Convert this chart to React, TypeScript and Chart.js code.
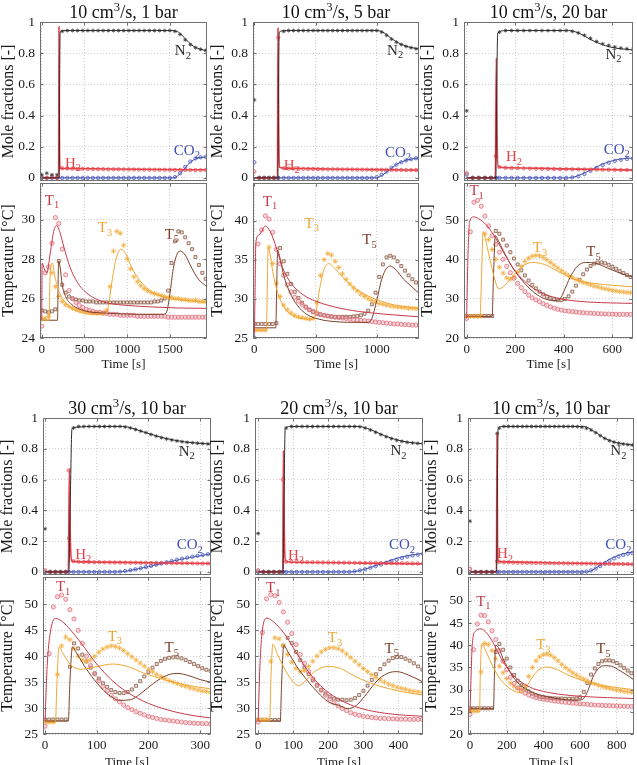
import React, { useEffect, useRef } from "react";
import { Chart, registerables } from "chart.js";
Chart.register(...registerables);

const FONT = "'Liberation Serif', 'Times New Roman', serif";

// ---------------- DATA ----------------
const panelTitles = ["10 cm³/s, 1 bar", "10 cm³/s, 5 bar", "10 cm³/s, 20 bar", "30 cm³/s, 10 bar", "20 cm³/s, 10 bar", "10 cm³/s, 10 bar"];
const moleTicks = [0, 0.2, 0.4, 0.6, 0.8, 1];

// Panel 1: 10 cm3/s, 1 bar
const p1_xTicks = [0, 500, 1000, 1500];
const p1_tTicks = [24, 26, 28, 30];
const p1_molT = [0,60,120,180,240,300,360,420,480,540,600,660,720,780,840,900,960,1020,1080,1140,1200,1260,1320,1380,1440,1500,1560,1620,1680,1740,1800,1860,1920];
const p1_N2 = [0.02,0.03,0.02,0.02,0.94,0.945,0.945,0.945,0.945,0.945,0.945,0.945,0.945,0.945,0.945,0.945,0.945,0.945,0.945,0.945,0.945,0.945,0.945,0.945,0.945,0.945,0.94,0.92,0.885,0.855,0.835,0.825,0.818];
const p1_H2 = [0.01,0,0.01,0,0.062,0.06,0.059,0.058,0.058,0.057,0.057,0.056,0.056,0.055,0.055,0.055,0.054,0.054,0.054,0.053,0.053,0.053,0.052,0.052,0.052,0.052,0.051,0.051,0.051,0.05,0.05,0.05,0.05];
const p1_CO2 = [0,0,0,0,0,0,0,0,0,0,0,0,0,0,0,0,0,0,0,0,0,0,0,0,0,0,0.005,0.03,0.07,0.105,0.125,0.132,0.135];
const p1_N2_model = [[0,0],[205,0],[210,0.6],[216,0.935],[260,0.945],[1540,0.945],[1600,0.935],[1660,0.905],[1720,0.87],[1790,0.84],[1860,0.825],[1935,0.815]];
const p1_H2_model = [[0,0],[198,0],[202,0.97],[207,0.3],[213,0.065],[260,0.06],[800,0.057],[1400,0.054],[1935,0.052]];
const p1_CO2_model = [[0,0],[1530,0],[1590,0.012],[1650,0.045],[1710,0.085],[1770,0.113],[1840,0.128],[1935,0.135]];
const p1_tmpT = [0,40,80,120,160,200,240,280,320,360,400,440,480,520,560,600,640,680,720,760,800,840,880,920,960,1000,1040,1080,1120,1160,1200,1240,1280,1320,1360,1400,1440,1480,1520,1560,1600,1640,1680,1720,1760,1800,1840,1880,1920];
const p1_T1 = [24.6,27.3,27.6,28.8,30.1,29.8,28.5,27.2,26.4,26.0,25.8,25.65,25.55,25.45,25.4,25.35,25.3,25.3,25.25,25.25,25.2,25.2,25.2,25.15,25.15,25.15,25.15,25.15,25.1,25.1,25.1,25.1,25.1,25.1,25.1,25.1,25.1,25.05,25.05,25.05,25.05,25.05,25.05,25.05,25.05,25.05,25.05,25.05,25.05];
const p1_T3 = [25.0,25.0,25.1,27.3,26.6,26.1,25.85,25.7,25.6,25.5,25.45,25.4,25.35,25.3,25.3,25.25,25.25,25.25,25.3,25.4,26.6,28.4,29.4,29.3,28.7,28.0,27.5,27.1,26.85,26.65,26.5,26.4,26.3,26.25,26.2,26.15,26.1,26.05,26.05,26.0,26.0,25.95,25.95,25.9,25.9,25.9,25.85,25.85,25.85];
const p1_T5 = [25.4,25.35,25.3,25.35,25.45,27.9,26.7,26.3,26.1,26.0,25.95,25.9,25.9,25.85,25.85,25.85,25.8,25.8,25.8,25.8,25.8,25.8,25.8,25.8,25.8,25.8,25.8,25.8,25.8,25.8,25.8,25.8,25.8,25.85,25.85,25.9,26.0,26.4,27.8,28.9,29.4,29.35,29.1,28.8,28.5,28.1,27.7,27.3,27.0];
const p1_T1_model = [[0,24.9],[6,27.8],[30,27.5],[60,27.3],[100,28.3],[140,29.4],[175,29.7],[210,29.4],[260,28.6],[330,27.6],[420,26.8],[520,26.3],[650,25.95],[800,25.75],[1000,25.65],[1300,25.57],[1600,25.52],[1935,25.5]];
const p1_T3_model = [[0,24.9],[88,24.9],[94,26.5],[104,27.5],[125,27.8],[150,27.2],[200,26.4],[260,25.9],[350,25.5],[450,25.3],[600,25.2],[740,25.2],[780,25.6],[820,26.8],[870,28.0],[925,28.5],[980,28.3],[1050,27.6],[1150,26.9],[1300,26.3],[1500,26.0],[1700,25.9],[1935,25.8]];
const p1_T5_model = [[0,24.9],[185,24.9],[191,26.5],[198,27.9],[215,27.6],[240,26.7],[280,26.1],[350,25.7],[450,25.45],[600,25.3],[800,25.25],[1100,25.2],[1420,25.2],[1460,25.3],[1500,26.2],[1540,27.5],[1590,28.3],[1625,28.4],[1680,28.2],[1750,27.6],[1830,27.0],[1935,26.6]];

// Panel 2: 10 cm3/s, 5 bar
const p2_xTicks = [0, 500, 1000];
const p2_tTicks = [25, 30, 35, 40];
const p2_molT = [0,40,80,120,160,195,240,280,320,360,400,440,480,520,560,600,640,680,720,760,800,840,880,920,960,1000,1040,1080,1120,1160,1200,1240,1280,1320,1350];
const p2_N2 = [0.5,0,0,0,0,0,0.94,0.945,0.945,0.945,0.945,0.945,0.945,0.945,0.945,0.945,0.945,0.945,0.945,0.945,0.945,0.945,0.945,0.945,0.945,0.945,0.935,0.915,0.89,0.87,0.855,0.843,0.835,0.828,0.825];
const p2_H2 = [0.04,0,0,0,0,0.9,0.062,0.06,0.059,0.058,0.058,0.057,0.057,0.056,0.056,0.055,0.055,0.055,0.054,0.054,0.054,0.053,0.053,0.053,0.052,0.052,0.052,0.052,0.051,0.051,0.051,0.05,0.05,0.05,0.05];
const p2_CO2 = [0.1,0,0,0,0,0,0,0,0,0,0,0,0,0,0,0,0,0,0,0,0,0,0,0,0,0.005,0.02,0.04,0.065,0.085,0.1,0.112,0.12,0.126,0.128];
const p2_N2_model = [[0,0],[192,0],[197,0.5],[203,0.935],[250,0.945],[1000,0.945],[1050,0.935],[1110,0.9],[1180,0.865],[1260,0.84],[1345,0.828]];
const p2_H2_model = [[0,0],[189,0],[193,0.96],[199,0.3],[205,0.068],[260,0.062],[600,0.057],[1000,0.053],[1345,0.05]];
const p2_CO2_model = [[0,0],[990,0],[1040,0.015],[1100,0.05],[1170,0.09],[1250,0.115],[1345,0.128]];
const p2_tmpT = [0,30,60,90,120,150,180,210,240,270,300,330,360,390,420,450,480,510,540,570,600,630,660,690,720,750,780,810,840,870,900,930,960,990,1020,1050,1080,1110,1140,1170,1200,1230,1260,1290,1320,1350];
const p2_T1 = [25.0,37.0,38.8,40.6,40.2,38.5,36.3,34.5,33.0,31.8,30.9,30.2,29.7,29.3,28.9,28.6,28.4,28.2,28.0,27.9,27.8,27.7,27.65,27.6,27.55,27.5,27.4,27.35,27.3,27.25,27.2,27.15,27.1,27.05,27.0,26.95,26.9,26.85,26.8,26.8,26.75,26.7,26.7,26.65,26.65,26.6];
const p2_T3 = [26.0,26.0,26.0,26.0,36.6,34.5,32.0,30.3,29.2,28.6,28.2,27.9,27.7,27.6,27.5,27.4,27.5,29.5,33.0,35.0,35.8,35.6,34.8,34.0,33.2,32.5,31.9,31.4,31.0,30.6,30.3,30.0,29.8,29.6,29.4,29.3,29.2,29.1,29.0,28.95,28.9,28.85,28.8,28.8,28.75,28.7];
const p2_T5 = [26.8,26.8,26.8,26.8,26.8,26.8,26.9,36.5,34.8,33.2,31.9,30.9,30.1,29.5,29.0,28.6,28.3,28.1,28.0,27.9,27.8,27.75,27.7,27.7,27.7,27.7,27.7,27.75,27.8,27.9,28.1,28.5,29.3,30.8,32.8,34.4,35.3,35.5,35.3,34.8,34.2,33.6,33.0,32.5,32.1,31.7];
const p2_T1_model = [[0,25.5],[5,30],[12,37.2],[40,38.2],[90,39.3],[130,38.6],[180,36.5],[230,34.0],[300,32.0],[400,30.5],[520,29.6],[700,28.8],[900,28.3],[1100,28.0],[1345,27.7]];
const p2_T3_model = [[0,26.0],[98,26.0],[104,30],[113,36.5],[125,36.0],[150,33.5],[190,30.8],[240,29.0],[300,28.0],[380,27.5],[470,27.4],[500,28.0],[530,31],[570,33.8],[610,34.5],[650,34.0],[720,32.8],[800,31.6],[900,30.6],[1000,29.9],[1150,29.2],[1345,28.8]];
const p2_T5_model = [[0,26.3],[175,26.3],[182,31],[190,36.2],[205,35.5],[240,33.0],[290,30.8],[350,29.2],[430,28.0],[530,27.4],[650,27.1],[800,27.0],[930,27.0],[960,27.5],[1000,29.8],[1040,32.5],[1080,33.9],[1110,34.2],[1150,33.8],[1220,32.5],[1290,31.5],[1345,30.7]];

// Panel 3: 10 cm3/s, 20 bar
const p3_xTicks = [0, 200, 400, 600];
const p3_tTicks = [20, 30, 40, 50];
const p3_molT = [0,25,50,75,100,120,135,160,185,210,235,260,285,310,335,360,385,410,435,460,485,510,535,560,585,610,635,660,685];
const p3_N2 = [0.43,0,0,0,0,0,0.935,0.945,0.945,0.945,0.945,0.945,0.945,0.945,0.945,0.945,0.945,0.945,0.94,0.93,0.915,0.895,0.875,0.86,0.85,0.84,0.833,0.828,0.825];
const p3_H2 = [0.03,0,0,0,0,0.14,0.07,0.065,0.063,0.062,0.061,0.06,0.059,0.058,0.058,0.057,0.056,0.056,0.055,0.055,0.054,0.054,0.053,0.053,0.052,0.052,0.051,0.051,0.05];
const p3_CO2 = [0.02,0,0,0,0,0,0,0,0,0,0,0,0,0,0,0,0,0,0.003,0.01,0.025,0.045,0.065,0.082,0.097,0.108,0.116,0.121,0.124];
const p3_N2_model = [[0,0],[120,0],[124,0.6],[128,0.93],[160,0.945],[420,0.945],[460,0.93],[520,0.88],[590,0.84],[685,0.82]];
const p3_H2_model = [[0,0],[118,0],[122,0.77],[126,0.2],[130,0.072],[170,0.065],[400,0.058],[685,0.05]];
const p3_CO2_model = [[0,0],[420,0],[460,0.015],[510,0.05],[570,0.095],[630,0.12],[685,0.128]];
const p3_tmpT = [0,15,30,45,60,75,90,105,120,135,150,165,180,195,210,225,240,255,270,285,300,315,330,345,360,375,390,405,420,435,450,465,480,495,510,525,540,555,570,585,600,615,630,645,660,675];
const p3_T1 = [25.0,47.0,54.5,55.0,53.5,51.0,48.5,46.0,43.8,41.8,40.0,38.2,36.6,35.2,33.9,32.8,31.8,30.9,30.2,29.7,29.2,28.7,28.3,27.9,27.6,27.3,27.1,26.9,26.8,26.7,26.6,26.5,26.4,26.35,26.3,26.25,26.2,26.15,26.1,26.1,26.05,26.05,26.0,26.0,26.0,26.0];
const p3_T3 = [25.5,25.5,25.5,25.5,25.6,46.5,45.0,42.5,40.0,38.0,36.5,35.3,35.0,35.5,36.7,38.2,39.5,40.3,40.8,41.0,40.9,40.5,39.9,39.2,38.5,37.8,37.1,36.5,35.9,35.4,34.9,34.5,34.1,33.8,33.5,33.2,33.0,32.7,32.5,32.3,32.1,31.95,31.8,31.7,31.6,31.5];
const p3_T5 = [25.6,25.6,25.6,25.6,25.6,25.6,25.6,25.6,47.2,46.5,45.0,43.5,41.8,40.2,38.7,37.2,35.9,34.6,33.5,32.6,31.8,31.1,30.5,30.1,29.8,29.6,29.6,29.9,30.6,31.8,33.3,34.8,36.2,37.4,38.3,38.9,39.2,39.2,39.0,38.6,38.1,37.6,37.0,36.5,36.0,35.5];
const p3_T1_model = [[0,25],[5,40],[12,49.5],[28,50.8],[50,50.3],[80,48.8],[110,46.3],[150,42.0],[200,37.0],[250,33.8],[300,31.7],[370,30.2],[450,29.4],[550,29.0],[685,28.8]];
const p3_T3_model = [[0,25.3],[55,25.3],[60,33],[68,47.0],[85,43],[105,37.5],[120,34],[132,32.5],[150,33.0],[180,35.0],[220,37.8],[270,39.2],[320,38.7],[380,36.8],[440,35.0],[520,33.9],[600,33.4],[685,33.0]];
const p3_T5_model = [[0,25.5],[105,25.5],[110,35],[118,46.0],[130,44.8],[150,42.3],[190,37.8],[240,33.8],[290,31.0],[330,29.8],[360,29.5],[385,30.0],[405,32.5],[425,35.3],[455,38.2],[490,39.2],[530,39.0],[580,37.8],[640,36.3],[685,35.5]];

// Panel 4: 30 cm3/s, 10 bar
const p4_xTicks = [0, 100, 200, 300];
const p4_tTicks = [25, 30, 35, 40, 45, 50];
const p4_molT = [0,10,20,30,40,46,55,65,75,85,95,105,115,125,135,145,155,165,175,185,195,205,215,225,235,245,255,265,275,285,295,305,315];
const p4_N2 = [0.28,0,0,0,0,0.22,0.935,0.945,0.945,0.945,0.945,0.945,0.945,0.945,0.945,0.945,0.942,0.935,0.925,0.915,0.905,0.893,0.882,0.872,0.864,0.857,0.851,0.846,0.842,0.839,0.836,0.834,0.832];
const p4_H2 = [0.01,0,0,0,0,0.66,0.07,0.066,0.065,0.064,0.063,0.063,0.062,0.062,0.061,0.061,0.06,0.06,0.06,0.059,0.059,0.058,0.058,0.058,0.057,0.057,0.057,0.056,0.056,0.056,0.055,0.055,0.055];
const p4_CO2 = [0,0,0,0,0,0,0,0,0,0,0,0,0,0,0,0.002,0.006,0.011,0.017,0.024,0.031,0.039,0.047,0.055,0.063,0.071,0.079,0.086,0.093,0.099,0.105,0.11,0.115];
const p4_N2_model = [[0,0],[46,0],[49,0.5],[52,0.93],[60,0.94],[80,0.945],[150,0.945],[190,0.91],[230,0.87],[270,0.845],[321,0.83]];
const p4_H2_model = [[0,0],[45,0],[47,0.67],[49,0.2],[52,0.07],[70,0.065],[200,0.06],[321,0.055]];
const p4_CO2_model = [[0,0],[140,0],[180,0.02],[220,0.05],[260,0.08],[300,0.105],[321,0.118]];
const p4_tmpT = [0,8,16,24,32,40,48,56,64,72,80,88,96,104,112,120,128,136,144,152,160,168,176,184,192,200,208,216,224,232,240,248,256,264,272,280,288,296,304,312,320];
const p4_T1 = [26.5,40.5,49.5,51.5,51.8,51.0,49.0,47.2,45.0,42.5,40.0,38.2,36.6,35.3,34.2,33.3,32.5,31.8,31.2,30.6,30.1,29.7,29.3,29.0,28.7,28.4,28.2,28.0,27.8,27.7,27.6,27.5,27.4,27.3,27.2,27.15,27.1,27.05,27.0,27.0,26.95];
const p4_T3 = [27.3,27.3,27.3,36.5,42.0,43.7,43.2,41.5,40.0,39.3,39.0,39.3,40.0,40.8,41.4,41.8,42.0,41.9,41.6,41.1,40.5,39.9,39.3,38.7,38.1,37.5,37.0,36.5,36.1,35.7,35.3,35.0,34.7,34.4,34.2,33.9,33.7,33.5,33.3,33.2,33.0];
const p4_T5 = [27.8,27.8,27.8,27.8,27.8,27.8,38.0,42.5,41.5,40.3,39.0,37.8,36.7,35.7,34.8,34.1,33.5,33.1,32.9,32.9,33.1,33.6,34.3,35.2,36.1,37.0,37.8,38.5,39.1,39.5,39.7,39.8,39.8,39.6,39.3,38.9,38.5,38.1,37.7,37.4,37.2];
const p4_T1_model = [[0,27.5],[4,38],[10,44.5],[20,47.3],[32,46.8],[50,45],[70,42.5],[100,38.5],[130,35.3],[160,33.0],[200,30.9],[250,29.3],[290,28.5],[321,28.1]];
const p4_T3_model = [[0,27.2],[20,27.2],[23,35],[27,41.8],[35,40.5],[50,38.3],[70,37.5],[100,38.0],[130,38.5],[160,38.0],[190,36.8],[230,35.5],[270,34.5],[321,33.7]];
const p4_T5_model = [[0,27.5],[45,27.5],[48,35],[53,41.8],[60,40.8],[75,38.3],[95,35.5],[120,32.8],[145,31.5],[165,31.6],[185,32.8],[210,34.8],[235,36.3],[255,36.7],[280,36.2],[300,35.5],[321,35.0]];

// Panel 5: 20 cm3/s, 10 bar
const p5_xTicks = [0, 100, 200, 300, 400];
const p5_tTicks = [25, 30, 35, 40, 45, 50];
const p5_molT = [0,15,30,45,60,70,80,95,110,125,140,155,170,185,200,215,230,245,260,275,290,305,320,335,350,365,380,395,410,425,440,455,470];
const p5_N2 = [0.25,0,0,0,0,0,0.935,0.945,0.945,0.945,0.945,0.945,0.945,0.945,0.945,0.945,0.945,0.945,0.945,0.945,0.943,0.935,0.922,0.907,0.892,0.878,0.866,0.856,0.848,0.842,0.838,0.835,0.833];
const p5_H2 = [0.01,0,0,0,0,0.6,0.066,0.066,0.065,0.064,0.063,0.063,0.062,0.062,0.061,0.061,0.06,0.06,0.06,0.059,0.059,0.058,0.058,0.058,0.057,0.057,0.057,0.056,0.056,0.056,0.055,0.055,0.055];
const p5_CO2 = [0,0,0,0,0,0,0,0,0,0,0,0,0,0,0,0,0,0,0,0.004,0.01,0.018,0.027,0.037,0.048,0.059,0.07,0.08,0.09,0.099,0.106,0.112,0.117];
const p5_N2_model = [[0,0],[71,0],[74,0.5],[77,0.93],[90,0.945],[285,0.945],[320,0.925],[360,0.885],[410,0.85],[470,0.832]];
const p5_H2_model = [[0,0],[70,0],[72,0.79],[75,0.2],[79,0.068],[100,0.063],[300,0.057],[470,0.052]];
const p5_CO2_model = [[0,0],[265,0],[300,0.015],[340,0.045],[390,0.085],[430,0.107],[470,0.12]];
const p5_tmpT = [0,12,24,36,48,60,72,84,96,108,120,132,144,156,168,180,192,204,216,228,240,252,264,276,288,300,312,324,336,348,360,372,384,396,408,420,432,444,456,468];
const p5_T1 = [27.3,44.5,51.0,51.8,51.6,50.3,48.5,46.5,44.3,42.2,40.3,38.6,37.0,35.6,34.4,33.4,32.5,31.7,31.0,30.4,29.9,29.5,29.1,28.8,28.6,28.4,28.3,28.2,28.1,28.0,28.0,27.95,27.9,27.9,27.85,27.85,27.8,27.8,27.8,27.8];
const p5_T3 = [27.8,27.8,27.8,39.0,43.5,43.3,42.0,40.3,38.8,37.6,37.0,37.2,38.0,39.0,40.0,40.8,41.3,41.6,41.6,41.4,41.0,40.4,39.7,39.0,38.3,37.6,37.0,36.4,35.9,35.4,35.0,34.6,34.3,34.0,33.8,33.6,33.4,33.2,33.1,33.0];
const p5_T5 = [27.7,27.7,27.7,27.7,27.7,27.7,42.0,43.5,42.5,40.8,39.2,37.8,36.5,35.3,34.3,33.5,32.8,32.2,31.8,31.6,31.6,31.5,31.6,31.9,32.5,33.3,34.3,35.4,36.5,37.5,38.4,39.1,39.6,39.8,39.8,39.5,39.1,38.6,38.0,37.4];
const p5_T1_model = [[0,27.5],[5,38],[12,45],[25,47.3],[45,46.5],[80,43.8],[110,40.5],[140,37.3],[170,34.8],[200,33.0],[250,31.0],[300,29.8],[360,29.0],[420,28.6],[470,28.4]];
const p5_T3_model = [[0,27.5],[33,27.5],[36,35],[42,42.3],[55,40.3],[80,37.0],[100,35.0],[115,34.3],[135,35.2],[165,37.2],[200,38.0],[235,37.6],[270,36.3],[320,34.8],[380,33.6],[430,32.9],[470,32.5]];
const p5_T5_model = [[0,27.5],[63,27.5],[67,35],[73,42.0],[85,40.8],[110,38.0],[140,35.3],[170,33.0],[200,31.2],[230,30.5],[255,29.9],[280,30.5],[310,32.8],[340,35.3],[370,36.7],[395,37.0],[430,36.3],[470,35.0]];

// Panel 6: 10 cm3/s, 10 bar
const p6_xTicks = [0, 200, 400, 600, 800];
const p6_tTicks = [20, 25, 30, 35, 40, 45, 50];
const p6_molT = [0,30,60,90,120,148,160,185,210,235,260,285,310,335,360,385,410,435,460,485,510,535,560,585,610,635,660,685,710,735,760,785,810,835,860,885,900];
const p6_N2 = [0.33,0,0,0,0,0.9,0.935,0.945,0.945,0.945,0.945,0.945,0.945,0.945,0.945,0.945,0.945,0.945,0.945,0.945,0.945,0.945,0.945,0.944,0.94,0.933,0.922,0.905,0.885,0.867,0.853,0.843,0.836,0.831,0.827,0.824,0.823];
const p6_H2 = [0.02,0,0,0,0,0.07,0.065,0.063,0.062,0.061,0.06,0.06,0.059,0.059,0.058,0.058,0.057,0.057,0.056,0.056,0.056,0.055,0.055,0.055,0.054,0.054,0.054,0.053,0.053,0.053,0.052,0.052,0.052,0.051,0.051,0.05,0.05];
const p6_CO2 = [0,0,0,0,0,0,0,0,0,0,0,0,0,0,0,0,0,0,0,0,0,0,0,0,0,0.003,0.01,0.022,0.038,0.055,0.072,0.088,0.1,0.11,0.118,0.123,0.125];
const p6_N2_model = [[0,0],[145,0],[149,0.5],[153,0.925],[170,0.945],[620,0.945],[680,0.91],[740,0.865],[800,0.84],[894,0.823]];
const p6_H2_model = [[0,0],[144,0],[147,0.9],[150,0.2],[155,0.07],[180,0.065],[500,0.058],[894,0.05]];
const p6_CO2_model = [[0,0],[640,0],[680,0.02],[730,0.06],[790,0.1],[850,0.122],[894,0.13]];
const p6_tmpT = [0,20,40,60,80,100,120,140,160,180,200,220,240,260,280,300,320,340,360,380,400,420,440,460,480,500,520,540,560,580,600,620,640,660,680,700,720,740,760,780,800,820,840,860,880,900];
const p6_T1 = [24.4,39.0,44.8,46.8,46.7,45.3,43.3,41.3,38.8,36.4,34.5,32.8,31.4,30.4,29.7,29.2,28.8,28.5,28.2,28.0,27.85,27.7,27.6,27.45,27.35,27.25,27.15,27.05,26.95,26.9,26.8,26.75,26.7,26.6,26.55,26.5,26.45,26.4,26.4,26.35,26.3,26.3,26.25,26.25,26.2,26.2];
const p6_T3 = [25.2,25.2,25.2,34.0,40.4,40.2,38.8,37.0,35.3,33.8,32.5,31.5,30.8,30.3,30.0,30.8,33.0,35.0,36.5,37.4,37.9,38.0,37.8,37.2,36.5,35.7,35.0,34.4,33.8,33.3,32.8,32.4,32.0,31.6,31.3,31.0,30.7,30.5,30.3,30.1,29.9,29.8,29.6,29.5,29.4,29.3];
const p6_T5 = [25.8,25.8,25.8,25.8,25.8,25.8,25.8,38.5,40.3,39.0,37.0,35.0,33.3,32.0,31.0,30.2,29.6,29.1,28.7,28.4,28.3,28.2,28.1,28.05,28.0,28.0,27.95,27.95,27.95,28.0,28.3,29.5,31.5,33.4,34.8,35.8,36.4,36.6,36.6,36.4,36.0,35.5,34.9,34.3,33.7,33.2];
const p6_T1_model = [[0,25],[5,32],[12,40],[30,43.2],[60,43.7],[90,42.8],[130,40.3],[170,37.0],[220,34.0],[270,32.0],[330,30.5],[400,29.6],[480,29.0],[600,28.5],[750,28.2],[894,28.0]];
const p6_T3_model = [[0,25],[52,25],[56,33],[63,40.3],[80,39.3],[110,36.5],[150,33.3],[200,30.8],[250,29.5],[275,29.3],[300,30.0],[330,32.2],[370,34.3],[420,35.1],[470,34.6],[540,33.2],[640,31.7],[760,30.7],[894,30.0]];
const p6_T5_model = [[0,25.7],[128,25.7],[133,33],[140,40.0],[155,39.5],[180,37.0],[220,33.8],[270,31.2],[330,29.6],[410,28.5],[490,27.9],[570,27.6],[605,27.7],[625,28.3],[645,30.0],[670,32.8],[700,34.8],[735,35.4],[770,35.3],[820,34.2],[870,32.9],[894,32.2]];

// ---------------- STYLE ----------------
const COL = { N2: "#2b2b2b", H2: "#e5414a", CO2: "#4050b0", T1: "#c83a4b", T3: "#f0a532", T5: "#7d3f28" };
const MS = {
  N2: { shape: "star", r: 2, stroke: "#333", fill: "#333", bw: 0.7 },
  H2: { shape: "circle", r: 1.7, stroke: "#e8585c", fill: "rgba(240,130,130,0.35)", bw: 0.8 },
  CO2: { shape: "circle", r: 1.7, stroke: "#5563c1", fill: "rgba(120,130,210,0.3)", bw: 0.8 },
  T1: { shape: "circle", r: 2.1, stroke: "#e0707e", fill: "rgba(235,140,150,0.35)", bw: 0.8 },
  T3: { shape: "star", r: 2.6, stroke: "#f3b24a", fill: "#f3b24a", bw: 0.9 },
  T5: { shape: "rect", r: 2.1, stroke: "#8c5a45", fill: "rgba(170,130,110,0.25)", bw: 0.8 },
};

const PANELS = [
  { title: panelTitles[0], xMin: -20, xMax: 1935, xTicks: p1_xTicks, tMin: 24, tMax: 31.85, tTicks: p1_tTicks,
    molT: p1_molT, n2: p1_N2, h2: p1_H2, co2: p1_CO2, n2M: p1_N2_model, h2M: p1_H2_model, co2M: p1_CO2_model,
    tmpT: p1_tmpT, t1: p1_T1, t3: p1_T3, t5: p1_T5, t1M: p1_T1_model, t3M: p1_T3_model, t5M: p1_T5_model,
    molLab: [["N", "2", 1653, 0.817, COL.N2], ["H", "2", 366, 0.096, COL.H2], ["CO", "2", 1699, 0.18, COL.CO2]],
    tmpLab: [["T", "1", 120, 30.98, COL.T1], ["T", "3", 740, 29.6, COL.T3], ["T", "5", 1524, 29.26, COL.T5]] },
  { title: panelTitles[1], xMin: -11, xMax: 1345, xTicks: p2_xTicks, tMin: 25, tMax: 44.8, tTicks: p2_tTicks,
    molT: p2_molT, n2: p2_N2, h2: p2_H2, co2: p2_CO2, n2M: p2_N2_model, h2M: p2_H2_model, co2M: p2_CO2_model,
    tmpT: p2_tmpT, t1: p2_T1, t3: p2_T3, t5: p2_T5, t1M: p2_T1_model, t3M: p2_T3_model, t5M: p2_T5_model,
    molLab: [["N", "2", 1150, 0.823, COL.N2], ["H", "2", 305, 0.084, COL.H2], ["CO", "2", 1174, 0.167, COL.CO2]],
    tmpLab: [["T", "1", 128, 42.5, COL.T1], ["T", "3", 469, 39.7, COL.T3], ["T", "5", 940, 37.6, COL.T5]] },
  { title: panelTitles[2], xMin: -11, xMax: 685, xTicks: p3_xTicks, tMin: 20, tMax: 59.4, tTicks: p3_tTicks,
    molT: p3_molT, n2: p3_N2, h2: p3_H2, co2: p3_CO2, n2M: p3_N2_model, h2M: p3_H2_model, co2M: p3_CO2_model,
    tmpT: p3_tmpT, t1: p3_T1, t3: p3_T3, t5: p3_T5, t1M: p3_T1_model, t3M: p3_T3_model, t5M: p3_T5_model,
    molLab: [["N", "2", 605, 0.795, COL.N2], ["H", "2", 195, 0.137, COL.H2], ["CO", "2", 618, 0.186, COL.CO2]],
    tmpLab: [["T", "1", 41, 57.5, COL.T1], ["T", "3", 302, 43, COL.T3], ["T", "5", 522, 42, COL.T5]] },
  { title: panelTitles[3], xMin: -4, xMax: 321, xTicks: p4_xTicks, tMin: 25, tMax: 55.3, tTicks: p4_tTicks,
    molT: p4_molT, n2: p4_N2, h2: p4_H2, co2: p4_CO2, n2M: p4_N2_model, h2M: p4_H2_model, co2M: p4_CO2_model,
    tmpT: p4_tmpT, t1: p4_T1, t3: p4_T3, t5: p4_T5, t1M: p4_T1_model, t3M: p4_T3_model, t5M: p4_T5_model,
    molLab: [["N", "2", 274, 0.786, COL.N2], ["H", "2", 74, 0.119, COL.H2], ["CO", "2", 280, 0.179, COL.CO2]],
    tmpLab: [["T", "1", 35, 53.5, COL.T1], ["T", "3", 135, 43.9, COL.T3], ["T", "5", 245, 41.7, COL.T5]] },
  { title: panelTitles[4], xMin: -9, xMax: 470, xTicks: p5_xTicks, tMin: 25, tMax: 55.2, tTicks: p5_tTicks,
    molT: p5_molT, n2: p5_N2, h2: p5_H2, co2: p5_CO2, n2M: p5_N2_model, h2M: p5_H2_model, co2M: p5_CO2_model,
    tmpT: p5_tmpT, t1: p5_T1, t3: p5_T3, t5: p5_T5, t1M: p5_T1_model, t3M: p5_T3_model, t5M: p5_T5_model,
    molLab: [["N", "2", 400, 0.79, COL.N2], ["H", "2", 108, 0.112, COL.H2], ["CO", "2", 410, 0.179, COL.CO2]],
    tmpLab: [["T", "1", 43, 53.2, COL.T1], ["T", "3", 219, 43.6, COL.T3], ["T", "5", 381, 41.5, COL.T5]] },
  { title: panelTitles[5], xMin: -11, xMax: 894, xTicks: p6_xTicks, tMin: 20, tMax: 55.4, tTicks: p6_tTicks,
    molT: p6_molT, n2: p6_N2, h2: p6_H2, co2: p6_CO2, n2M: p6_N2_model, h2M: p6_H2_model, co2M: p6_CO2_model,
    tmpT: p6_tmpT, t1: p6_T1, t3: p6_T3, t5: p6_T5, t1M: p6_T1_model, t3M: p6_T3_model, t5M: p6_T5_model,
    molLab: [["N", "2", 809, 0.79, COL.N2], ["H", "2", 191, 0.12, COL.H2], ["CO", "2", 809, 0.179, COL.CO2]],
    tmpLab: [["T", "1", 73, 50, COL.T1], ["T", "3", 400, 40.2, COL.T3], ["T", "5", 727, 39.3, COL.T5]] },
];

// Layout (page pixels)
const ROWS = [
  { mTop: 22, mBot: 181, tTop: 183, tBot: 338, padTop: 22, xh: 34 },
  { mTop: 418, mBot: 575, tTop: 577, tBot: 734, padTop: 28, xh: 36 },
];
const COLS = [
  { row: 0, cl: -2, left: 40, right: 207 },
  { row: 0, cl: 207, left: 253, right: 419 },
  { row: 0, cl: 417, left: 464, right: 633 },
  { row: 1, cl: -3, left: 43, right: 211 },
  { row: 1, cl: 207, left: 255, right: 423 },
  { row: 1, cl: 421, left: 468, right: 634 },
];
const PR = 4;

// ---------------- HELPERS ----------------
const toPts = (pairs: number[][]) => pairs.map((p) => ({ x: p[0], y: p[1] }));
const zipPts = (t: number[], v: number[]) => t.map((x, i) => ({ x, y: v[i] }));
const lineDs = (pairs: number[][], color: string, w = 1) => ({
  data: toPts(pairs), borderColor: color, borderWidth: w, pointRadius: 0, fill: false,
  cubicInterpolationMode: "monotone", order: 0,
});
const markDs = (t: number[], v: number[], s: any) => ({
  data: zipPts(t, v), showLine: false, pointStyle: s.shape, pointRadius: s.r,
  borderColor: s.stroke, backgroundColor: s.fill, pointBorderWidth: s.bw, order: 1,
});

function drawSubText(ctx: CanvasRenderingContext2D, cx: number, cy: number, base: string, sub: string, color: string, size: number) {
  ctx.fillStyle = color;
  ctx.textAlign = "left";
  ctx.textBaseline = "alphabetic";
  ctx.font = `${size}px ${FONT}`;
  const w1 = ctx.measureText(base).width;
  const ss = size * 0.7;
  ctx.font = `${ss}px ${FONT}`;
  const w2 = ctx.measureText(sub).width;
  const x0 = cx - (w1 + w2) / 2;
  const by = cy + size * 0.33;
  ctx.font = `${size}px ${FONT}`;
  ctx.fillText(base, x0, by);
  ctx.font = `${ss}px ${FONT}`;
  ctx.fillText(sub, x0 + w1, by + size * 0.22);
}

function drawTitle(ctx: CanvasRenderingContext2D, cx: number, by: number, text: string, size: number) {
  const parts = text.split("³");
  ctx.fillStyle = "#111";
  ctx.textAlign = "left";
  ctx.textBaseline = "alphabetic";
  const ss = size * 0.7;
  ctx.font = `${size}px ${FONT}`;
  const w1 = ctx.measureText(parts[0]).width;
  const w3 = ctx.measureText(parts[1] || "").width;
  ctx.font = `${ss}px ${FONT}`;
  const w2 = parts.length > 1 ? ctx.measureText("3").width : 0;
  let x = cx - (w1 + w2 + w3) / 2;
  ctx.font = `${size}px ${FONT}`;
  ctx.fillText(parts[0], x, by);
  x += w1;
  if (parts.length > 1) {
    ctx.font = `${ss}px ${FONT}`;
    ctx.fillText("3", x, by - size * 0.38);
    x += w2;
    ctx.font = `${size}px ${FONT}`;
    ctx.fillText(parts[1], x, by);
  }
}

const snap = (v: number) => Math.round(v) + 0.5;

const decorPlugin = {
  id: "decor",
  afterDraw(chart: any, _args: any, opts: any) {
    const { ctx, chartArea: a, scales } = chart;
    const sx = scales.x, sy = scales.y;
    const L = snap(a.left), R = snap(a.right) - 1, T = snap(a.top), B = snap(a.bottom) - 1;
    ctx.save();
    ctx.strokeStyle = "#707070";
    ctx.lineWidth = 1;
    ctx.beginPath();
    sx.ticks.forEach((t: any) => {
      const px = snap(sx.getPixelForValue(t.value));
      ctx.moveTo(px, B); ctx.lineTo(px, B - 3);
      ctx.moveTo(px, T); ctx.lineTo(px, T + 3);
    });
    sy.ticks.forEach((t: any) => {
      const py = snap(sy.getPixelForValue(t.value));
      ctx.moveTo(L, py); ctx.lineTo(L + 3, py);
      ctx.moveTo(R, py); ctx.lineTo(R - 3, py);
    });
    ctx.stroke();
    ctx.strokeRect(L, T, R - L, B - T);
    (opts.labels || []).forEach((l: any[]) => {
      drawSubText(ctx, sx.getPixelForValue(l[2]), sy.getPixelForValue(l[3]), l[0], l[1], l[4], 15);
    });
    if (opts.title) drawTitle(ctx, (a.left + a.right) / 2, a.top - 4.5, opts.title, 18);
    ctx.restore();
  },
};

function buildConfig(P: any, kind: "mole" | "temp", geo: any) {
  const isMole = kind === "mole";
  const datasets = isMole
    ? [lineDs(P.n2M, COL.N2, 1), lineDs(P.h2M, COL.H2, 1.6), lineDs(P.co2M, COL.CO2, 1),
       markDs(P.molT, P.n2, MS.N2), markDs(P.molT, P.h2, MS.H2), markDs(P.molT, P.co2, MS.CO2)]
    : [lineDs(P.t1M, COL.T1, 1), lineDs(P.t3M, COL.T3, 1), lineDs(P.t5M, COL.T5, 1),
       markDs(P.tmpT, P.t1, MS.T1), markDs(P.tmpT, P.t3, MS.T3), markDs(P.tmpT, P.t5, MS.T5)];
  const yTicks = isMole ? moleTicks : P.tTicks;
  const gridOpts = { color: "#cfcfcf", lineWidth: 1, drawTicks: false };
  const borderOpts = { display: false, dash: [1, 2] };
  return {
    type: "line",
    data: { datasets },
    options: {
      animation: false,
      responsive: false,
      maintainAspectRatio: false,
      devicePixelRatio: 1,
      events: [],
      layout: { autoPadding: false, padding: { left: 0, top: geo.padTop, right: PR, bottom: 0 } },
      plugins: {
        legend: { display: false },
        tooltip: { enabled: false },
        decor: { title: isMole ? P.title : null, labels: isMole ? P.molLab : P.tmpLab },
      },
      scales: {
        x: {
          type: "linear", min: P.xMin, max: P.xMax,
          afterBuildTicks: (s: any) => { s.ticks = P.xTicks.map((v: number) => ({ value: v })); },
          afterFit: (s: any) => { s.height = geo.xh; s.paddingLeft = 0; s.paddingRight = 0; },
          ticks: { display: !isMole, padding: 4, autoSkip: false, maxRotation: 0, color: "#1a1a1a",
            font: { family: FONT, size: 13 }, callback: (v: any) => String(v) },
          grid: gridOpts, border: borderOpts,
          title: { display: !isMole, text: "Time [s]", color: "#1a1a1a", font: { family: FONT, size: 13 }, padding: 0 },
        },
        y: {
          type: "linear", min: isMole ? -0.02 : P.tMin, max: isMole ? 1 : P.tMax,
          afterBuildTicks: (s: any) => { s.ticks = yTicks.map((v: number) => ({ value: v })); },
          afterFit: (s: any) => { s.width = geo.yw; s.paddingTop = 0; s.paddingBottom = 0; },
          ticks: { padding: 5, autoSkip: false, color: "#1a1a1a", font: { family: FONT, size: 13.5 }, callback: (v: any) => String(v) },
          grid: gridOpts, border: borderOpts,
          title: { display: true, text: isMole ? "Mole fractions [-]" : "Temperature [°C]", color: "#1a1a1a",
            font: { family: FONT, size: 16 }, padding: { top: 1, bottom: 0 } },
        },
      },
    },
    plugins: [decorPlugin],
  };
}

function SubChart({ P, kind, c }: any) {
  const ref = useRef<HTMLCanvasElement>(null);
  const r = ROWS[c.row];
  const isMole = kind === "mole";
  const plotTop = isMole ? r.mTop : r.tTop;
  const plotBot = isMole ? r.mBot : r.tBot;
  const padTop = isMole ? r.padTop : 2;
  const xh = isMole ? 8 : r.xh;
  const yw = c.left - c.cl;
  const w = yw + (c.right - c.left) + PR;
  const h = padTop + (plotBot - plotTop) + xh;
  const top = plotTop - padTop;
  useEffect(() => {
    const chart = new Chart(ref.current as HTMLCanvasElement, buildConfig(P, kind, { padTop, xh, yw }) as any);
    return () => chart.destroy();
  }, []);
  return (
    <canvas ref={ref} width={w} height={h}
      style={{ position: "absolute", left: c.cl, top, width: w, height: h }} />
  );
}

export default function App() {
  return (
    <div style={{ position: "absolute", left: 0, top: 0, width: 637, height: 765, overflow: "hidden", background: "#fff" }}>
      {PANELS.map((P, i) => (
        <React.Fragment key={i}>
          <SubChart P={P} kind="mole" c={COLS[i]} />
          <SubChart P={P} kind="temp" c={COLS[i]} />
        </React.Fragment>
      ))}
    </div>
  );
}
